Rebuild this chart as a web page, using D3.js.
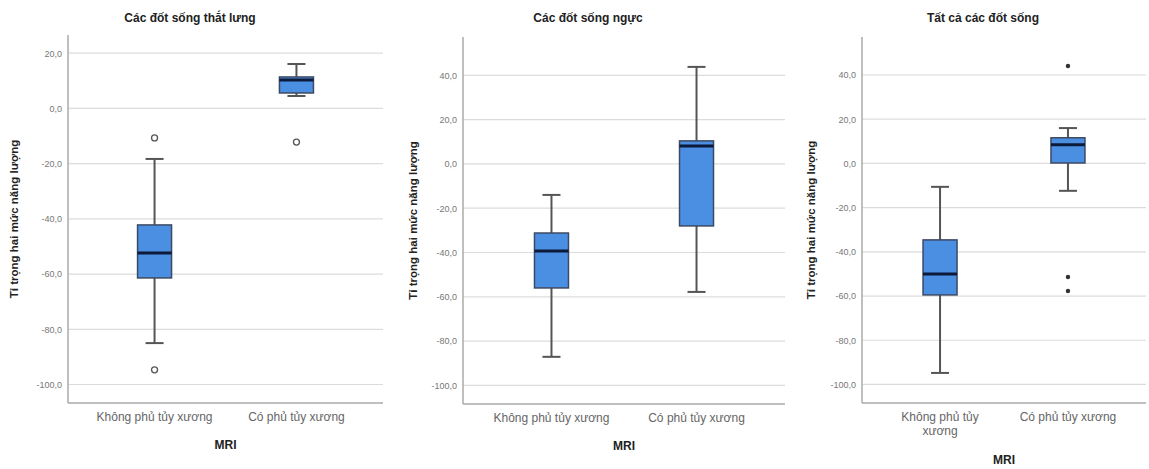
<!DOCTYPE html>
<html>
<head>
<meta charset="utf-8">
<script src="https://cdn.jsdelivr.net/npm/d3@7/dist/d3.min.js"></script>
<style>
  body { margin: 0; background: #fff; }
  svg { display: block; font-family: "Liberation Sans", Arial, sans-serif; }
</style>
</head>
<body>
<svg id="chart" width="1149" height="469"></svg>
<script>
// data
const categories = ["Không phủ tủy xương", "Có phủ tủy xương"];
const titles = ["Các đốt sống thắt lưng", "Các đốt sống ngực", "Tất cả các đốt sống"];
const yTicks = [20, 0, -20, -40, -60, -80, -100];
const yTicksWide = [40, 20, 0, -20, -40, -60, -80, -100];

// [lower whisker, Q1, median, Q3, upper whisker] per category
const lumbarStats = [[-85, -61.4, -52.4, -42.2, -18.3], [4.5, 5.6, 10.3, 11.4, 16.1]];
const thoracicStats = [[-87.1, -56, -39.3, -31.2, -14], [-57.8, -28, 8.1, 10.4, 43.8]];
const allStats = [[-94.8, -59.5, -50, -34.6, -10.6], [-12.4, 0.2, 8.4, 11.6, 16]];

// outliers (circles) and extremes (dots)
const lumbarOutliers = [[-10.7, -94.7], [-12.2]];
const thoracicOutliers = [[], []];
const allExtremes = [[], [44.1, -51.4, -57.7]];

const panels = [
  { title: titles[0], stats: lumbarStats, outliers: lumbarOutliers, extremes: [[], []], ticks: yTicks,
    x0: 68, x1: 383, top: 35, bottom: 403, domain: [-106.7, 26.6], titleX: 190, ylabX: 14, wrap: false },
  { title: titles[1], stats: thoracicStats, outliers: thoracicOutliers, extremes: [[], []], ticks: yTicksWide,
    x0: 463, x1: 785, top: 37, bottom: 404, domain: [-108.4, 57.3], titleX: 588, ylabX: 413, wrap: false },
  { title: titles[2], stats: allStats, outliers: [[], []], extremes: allExtremes, ticks: yTicksWide,
    x0: 862, x1: 1146, top: 37, bottom: 403, domain: [-108.4, 57.2], titleX: 983, ylabX: 811, wrap: true }
];

const svg = d3.select("#chart");

panels.forEach(p => {
  const g = svg.append("g");
  const y = d3.scaleLinear().domain(p.domain).range([p.bottom, p.top]);
  const x = d3.scalePoint().domain(categories).range([p.x0, p.x1]).padding(0.61);
  const boxW = 34, capW = 18;

  // gridlines
  g.selectAll(".grid").data(p.ticks).join("line")
    .attr("x1", p.x0).attr("x2", p.x1)
    .attr("y1", d => y(d)).attr("y2", d => y(d))
    .attr("stroke", "#dcdcdc").attr("stroke-width", 1.2);

  // y axis
  const yAxis = g.append("g").attr("transform", `translate(${p.x0},0)`)
    .call(d3.axisLeft(y).tickValues(p.ticks).tickSize(0).tickPadding(6)
      .tickFormat(d => d3.format(".1f")(d).replace(".", ",").replace("−", "-")));
  yAxis.select(".domain").remove();
  yAxis.selectAll("text").attr("fill", "#777").attr("font-size", 9);

  g.append("line").attr("x1", p.x0).attr("x2", p.x0).attr("y1", p.top).attr("y2", p.bottom)
    .attr("stroke", "#aaa").attr("stroke-width", 1.5);
  g.append("line").attr("x1", p.x0).attr("x2", p.x1).attr("y1", p.bottom).attr("y2", p.bottom)
    .attr("stroke", "#aaa").attr("stroke-width", 1.5);

  // boxes
  const box = g.selectAll(".box").data(p.stats).join("g");
  box.append("line")
    .attr("x1", (d, i) => x(categories[i])).attr("x2", (d, i) => x(categories[i]))
    .attr("y1", d => y(d[0])).attr("y2", d => y(d[4]))
    .attr("stroke", "#555").attr("stroke-width", 2);
  box.selectAll(".cap").data((d, i) => [[d[0], i], [d[4], i]]).join("line")
    .attr("x1", d => x(categories[d[1]]) - capW / 2).attr("x2", d => x(categories[d[1]]) + capW / 2)
    .attr("y1", d => y(d[0])).attr("y2", d => y(d[0]))
    .attr("stroke", "#555").attr("stroke-width", 2);
  box.append("rect")
    .attr("x", (d, i) => x(categories[i]) - boxW / 2).attr("width", boxW)
    .attr("y", d => y(d[3])).attr("height", d => y(d[1]) - y(d[3]))
    .attr("fill", "#4b8fe2").attr("stroke", "#3d4a63").attr("stroke-width", 1.5);
  box.append("line")
    .attr("x1", (d, i) => x(categories[i]) - boxW / 2).attr("x2", (d, i) => x(categories[i]) + boxW / 2)
    .attr("y1", d => y(d[2])).attr("y2", d => y(d[2]))
    .attr("stroke", "#0d1a3a").attr("stroke-width", 3);

  // outliers
  p.outliers.forEach((vals, i) => {
    g.selectAll(null).data(vals).join("circle")
      .attr("cx", x(categories[i])).attr("cy", d => y(d)).attr("r", 3)
      .attr("fill", "none").attr("stroke", "#555").attr("stroke-width", 1.3);
  });
  p.extremes.forEach((vals, i) => {
    g.selectAll(null).data(vals).join("circle")
      .attr("cx", x(categories[i])).attr("cy", d => y(d)).attr("r", 2.2)
      .attr("fill", "#333");
  });

  // category labels
  categories.forEach((c, i) => {
    const t = g.append("text").attr("x", x(c)).attr("y", p.bottom + 18)
      .attr("text-anchor", "middle").attr("font-size", 12).attr("fill", "#666");
    if (p.wrap && i === 0) {
      t.append("tspan").attr("x", x(c)).text("Không phủ tủy");
      t.append("tspan").attr("x", x(c)).attr("dy", 14).text("xương");
    } else {
      t.text(c);
    }
  });

  // axis titles
  g.append("text").attr("x", (p.x0 + p.x1) / 2).attr("y", p.bottom + (p.wrap ? 61 : 46))
    .attr("text-anchor", "middle").attr("font-size", 12).attr("font-weight", "bold").attr("fill", "#222")
    .text("MRI");
  g.append("text")
    .attr("transform", `translate(${p.ylabX},${(p.top + p.bottom) / 2}) rotate(-90)`)
    .attr("text-anchor", "middle").attr("dy", "0.35em")
    .attr("font-size", 11.5).attr("font-weight", "bold").attr("fill", "#222")
    .text("Tỉ trọng hai mức năng lượng");
  g.append("text").attr("x", p.titleX).attr("y", 22)
    .attr("text-anchor", "middle").attr("font-size", 12).attr("font-weight", "bold").attr("fill", "#222")
    .text(p.title);
});
</script>
</body>
</html>
